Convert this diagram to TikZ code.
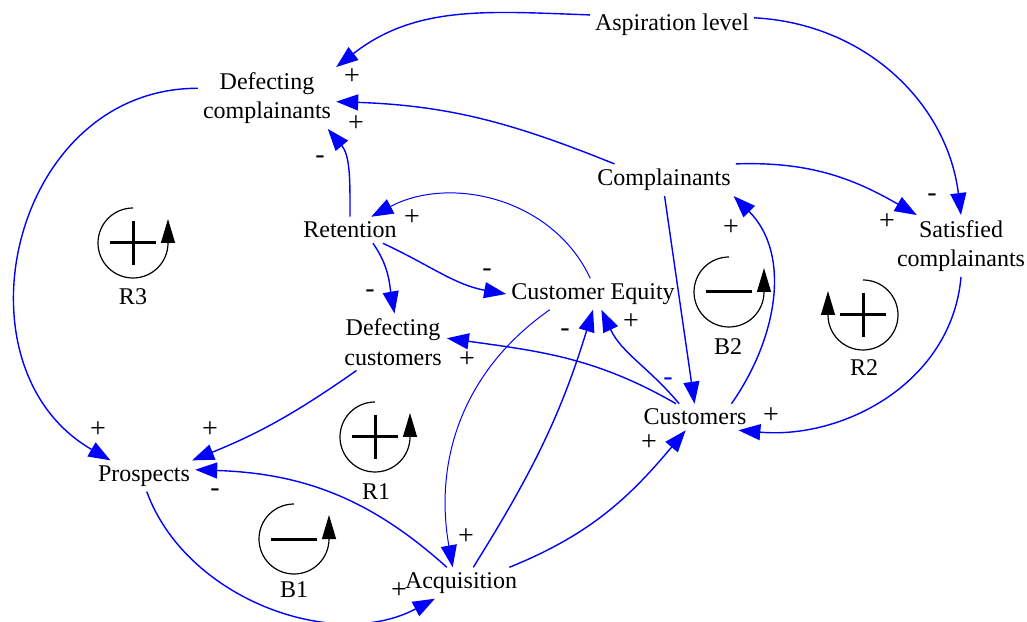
\documentclass[tikz,border=0pt]{standalone}
\usepackage{fontspec}
\setmainfont{Liberation Serif}
\usetikzlibrary{arrows.meta}
\begin{document}
\begin{tikzpicture}[x=1pt,y=1pt,
  var/.style={inner sep=5pt, align=center, font=\fontsize{24}{29.5}\selectfont},
  link/.style={draw=blue, line width=1.4pt, -{Triangle[length=22pt,width=16pt]}},
  faint/.style={link, line width=1pt},
  pol/.style={inner sep=0pt, font=\fontsize{28}{28}\selectfont},
  looplabel/.style={inner sep=0pt, font=\fontsize{24}{29.5}\selectfont},
  loopmark/.style={line width=1.2pt, -{Triangle[length=24pt,width=14pt]}},
  loopR/.pic={
    \draw[loopmark] (90:35pt) arc[start angle=90,end angle=360,radius=35pt] -- ++(0pt,24pt);
    \draw[line width=3pt] (-23pt,0pt) -- (23pt,0pt) (0pt,-22pt) -- (0pt,22pt);
  },
  loopRmirror/.pic={
    \draw[loopmark] (90:35pt) arc[start angle=90,end angle=-180,radius=35pt] -- ++(0pt,24pt);
    \draw[line width=3pt] (-23pt,0pt) -- (23pt,0pt) (0pt,-22pt) -- (0pt,22pt);
  },
  loopB/.pic={
    \draw[loopmark] (90:35pt) arc[start angle=90,end angle=360,radius=35pt] -- ++(0pt,24pt);
    \draw[line width=3pt] (-23pt,0pt) -- (23pt,0pt);
  }
]
\useasboundingbox (0,0) rectangle (1027,621);

% variables
\node[var] (asp) at (672,596) {Aspiration level};
\node[var] (defcomp) at (267,523) {Defecting\\complainants};
\node[var] (compl) at (664,441) {Complainants};
\node[var] (satis) at (961,375) {Satisfied\\complainants};
\node[var] (ret) at (350,391) {Retention};
\node[var] (ce) at (593,327) {Customer Equity};
\node[var] (defcust) at (393,279) {Defecting\\customers};
\node[var] (cust) at (695,204) {Customers};
\node[var] (prosp) at (144,145) {Prospects};
\node[var] (acq) at (461,38) {Acquisition};

% causal links
\draw[link] (asp.173) to[out=178,in=38] (defcomp.north east);
\draw[link] (compl.162) to[out=158,in=-2] (defcomp.-3);
\draw[link] (ret.north) to[out=90,in=-50] (defcomp.-27);
\draw[link] (asp.5) to[out=-3,in=97] (satis.north);
\draw[link] (compl.north east) to[out=2,in=150] (satis.145);
\draw[link] (cust.20) to[out=55,in=-45] (compl.-13);
\draw[link] (ret.-22) to[out=-25,in=170] (ce.west);
\draw[link] (ret.-30) to[out=-55,in=100] (defcust.87);
\draw[faint] (ce.100) to[out=115,in=28] (ret.32);
\draw[faint] (ce.200) to[out=215,in=100] (acq.118);
\draw[link] (acq.52) to[out=58,in=-107] (ce.south);
\draw[link] (cust.140) to[out=130,in=-65] (ce.-62);
\draw[link] (cust.145) to[out=150,in=-8] (defcust.4);
\draw[link] (compl.-88) -- (cust.92);
\draw[link] (satis.south) to[out=-95,in=-5] (cust.-17);
\draw[link] (defcomp.172) to[out=180,in=150,looseness=1.25] (prosp.155);
\draw[link] (defcust.218) to[out=215,in=22] (prosp.18);
\draw[link] (acq.132) to[out=138,in=-2] (prosp.7);
\draw[link] (prosp.-80) to[out=-70,in=208,looseness=0.95] (acq.211);
\draw[link] (acq.18) to[out=22,in=230] (cust.235);

% link polarities
\node[pol] (p1) at (352,544) {+};
\node[pol] (p2) at (356,497) {+};
\node[pol] (p3) at (320,461) {-};
\node[pol] (p4) at (932,423) {-};
\node[pol] (p5) at (887,399) {+};
\node[pol] (p6) at (731,393) {+};
\node[pol] (p7) at (412,403) {+};
\node[pol] (p8) at (487,348) {-};
\node[pol] (p9) at (370,327) {-};
\node[pol] (p10) at (565,288) {-};
\node[pol] (p11) at (631,299) {+};
\node[pol] (p12) at (467,261) {+};
\node[pol, text=blue] (p13) at (668,239) {-};
\node[pol] (p14) at (771,205) {+};
\node[pol] (p15) at (649,178) {+};
\node[pol] (p16) at (210,191) {+};
\node[pol] (p17) at (98,191) {+};
\node[pol] (p18) at (215,128) {-};
\node[pol] (p19) at (466,84) {+};
\node[pol] (p20) at (399,30) {+};

% feedback loop markers
\pic at (133,378) {loopR};
\node[looplabel] (r3) at (133,324) {R3};
\pic at (375,184) {loopR};
\node[looplabel] (r1) at (376,129) {R1};
\pic at (294,82) {loopB};
\node[looplabel] (b1) at (294,31) {B1};
\pic at (729,329) {loopB};
\node[looplabel] (b2) at (728,274) {B2};
\pic at (863,306) {loopRmirror};
\node[looplabel] (r2) at (864,253) {R2};
\end{tikzpicture}
\end{document}
